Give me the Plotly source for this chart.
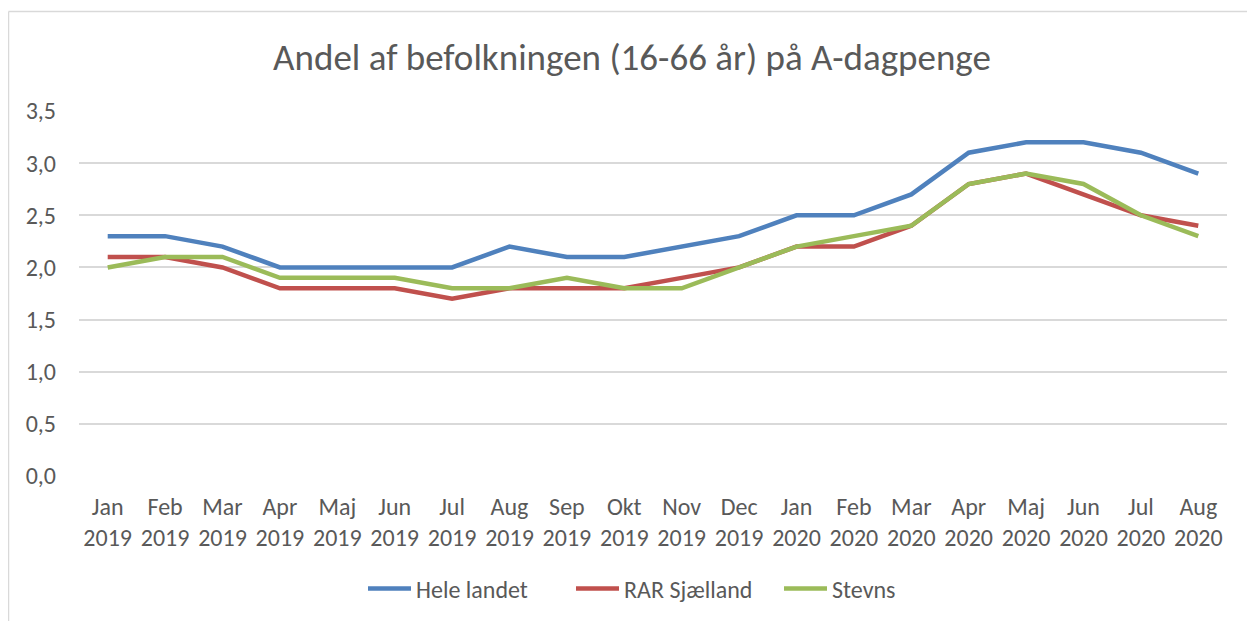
import plotly.graph_objects as go

months = ["Jan", "Feb", "Mar", "Apr", "Maj", "Jun", "Jul", "Aug", "Sep", "Okt", "Nov", "Dec",
          "Jan", "Feb", "Mar", "Apr", "Maj", "Jun", "Jul", "Aug"]
years = ["2019"] * 12 + ["2020"] * 8
categories = [f"{m} {y}" for m, y in zip(months, years)]
tick_labels = [f"{m}<br>{y}" for m, y in zip(months, years)]

hele_landet = [2.3, 2.3, 2.2, 2.0, 2.0, 2.0, 2.0, 2.2, 2.1, 2.1, 2.2, 2.3, 2.5, 2.5, 2.7, 3.1, 3.2, 3.2, 3.1, 2.9]
rar_sjaelland = [2.1, 2.1, 2.0, 1.8, 1.8, 1.8, 1.7, 1.8, 1.8, 1.8, 1.9, 2.0, 2.2, 2.2, 2.4, 2.8, 2.9, 2.7, 2.5, 2.4]
stevns = [2.0, 2.1, 2.1, 1.9, 1.9, 1.9, 1.8, 1.8, 1.9, 1.8, 1.8, 2.0, 2.2, 2.3, 2.4, 2.8, 2.9, 2.8, 2.5, 2.3]

y_ticks = [0.0, 0.5, 1.0, 1.5, 2.0, 2.5, 3.0, 3.5]
y_tick_labels = ["0,0", "0,5", "1,0", "1,5", "2,0", "2,5", "3,0", "3,5"]

series = [
    ("Hele landet", hele_landet, "#4f81bd"),
    ("RAR Sjælland", rar_sjaelland, "#c0504d"),
    ("Stevns", stevns, "#9bbb59"),
]

FONT = "Carlito, Lato, sans-serif"
TXT = "#595959"

fig = go.Figure()
for name, vals, color in series:
    fig.add_trace(go.Scatter(
        x=categories, y=vals, name=name, mode="lines",
        line=dict(color=color, width=4.5, shape="linear"),
    ))

# page body has an 8px offset
OFF = 8
W, H = 1255, 621
L = 79 - OFF
T = 111 - OFF
R = W - (1227 - OFF)
B = H - (476 - OFF)
pw, ph = W - L - R, H - T - B

def px_x(x):
    return (x - OFF - L) / pw

def px_y(y):
    return (H - B - (y - OFF)) / ph

fig.update_layout(
    width=W, height=H,
    margin=dict(l=L, r=R, t=T, b=B, pad=0),
    paper_bgcolor="white", plot_bgcolor="white",
    font=dict(family=FONT, color=TXT, size=24),
    title=dict(text="Andel af befolkningen (16-66 år) på A-dagpenge",
               x=px_x(632), xanchor="center", xref="paper",
               y=1 - (57 - OFF) / H, yanchor="middle",
               font=dict(size=37, color=TXT, family=FONT)),
    showlegend=True,
    legend=dict(orientation="h", x=px_x(675), xanchor="center", y=px_y(589), yanchor="middle",
                font=dict(size=24, color=TXT, family=FONT),
                itemwidth=43, entrywidth=150, entrywidthmode="pixels",
                traceorder="normal"),
    xaxis=dict(
        type="category", tickmode="array", tickvals=categories, ticktext=tick_labels,
        showgrid=False, showline=False, ticks="", zeroline=False,
        tickfont=dict(size=24, color=TXT), range=[-0.5, len(categories) - 0.5],
        ticklabelstandoff=14,
    ),
    yaxis=dict(
        range=[0, 3.5], tickmode="array", tickvals=y_ticks, ticktext=y_tick_labels,
        showgrid=True, gridcolor="#d9d9d9", gridwidth=1.5, zeroline=False,
        showline=False, ticks="", tickfont=dict(size=24, color=TXT),
        ticklabelstandoff=22,
    ),
    shapes=[
        dict(type="line", xref="paper", yref="paper",
             x0=px_x(8.5), x1=px_x(1270), y0=px_y(11.5), y1=px_y(11.5),
             line=dict(color="#d9d9d9", width=1.5)),
        dict(type="line", xref="paper", yref="paper",
             x0=px_x(8.5), x1=px_x(8.5), y0=px_y(11.5), y1=px_y(640),
             line=dict(color="#d9d9d9", width=1.5)),
    ],
)

fig.write_html("out.html")
